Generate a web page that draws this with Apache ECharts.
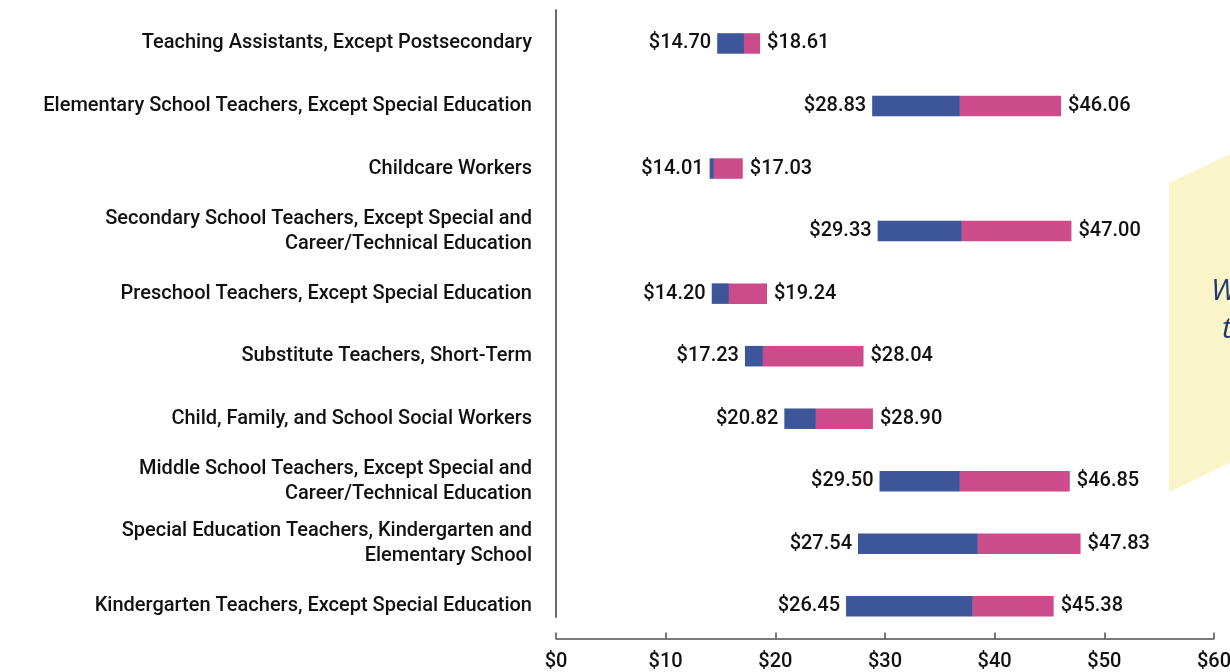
<!DOCTYPE html>
<html>
<head>
<meta charset="utf-8">
<script src="https://cdn.jsdelivr.net/npm/echarts@6/dist/echarts.min.js"></script>
<style>
	html, body { margin: 0; padding: 0; background: #ffffff; }
	#main { width: 1230px; height: 672px; }
</style>
</head>
<body>
<div id="main"></div>
<script>
// occupations, top to bottom
var categories = [
	'Teaching Assistants, Except Postsecondary',
	'Elementary School Teachers, Except Special Education',
	'Childcare Workers',
	'Secondary School Teachers, Except Special and\nCareer/Technical Education',
	'Preschool Teachers, Except Special Education',
	'Substitute Teachers, Short-Term',
	'Child, Family, and School Social Workers',
	'Middle School Teachers, Except Special and\nCareer/Technical Education',
	'Special Education Teachers, Kindergarten and\nElementary School',
	'Kindergarten Teachers, Except Special Education'
];
// hourly wages ($)
var lowWage = [14.70, 28.83, 14.01, 29.33, 14.20, 17.23, 20.82, 29.50, 27.54, 26.45];
var midWage = [17.14, 36.83, 14.40, 37.01, 15.77, 18.87, 23.70, 36.83, 38.47, 38.01];
var highWage = [18.61, 46.06, 17.03, 47.00, 19.24, 28.04, 28.90, 46.85, 47.83, 45.38];
var xTicks = [0, 10, 20, 30, 40, 50, 60];

var FONT = 'Roboto';
var BLUE = '#3D5599';
var PINK = '#CB4B8B';

function money(v) {
	return '$' + v.toFixed(2);
}

var baseData = [], blueData = [], pinkData = [];
for (var i = 0; i < categories.length; i++) {
	baseData.push(lowWage[i]);
	blueData.push(+(midWage[i] - lowWage[i]).toFixed(2));
	pinkData.push(+(highWage[i] - midWage[i]).toFixed(2));
}

var myChart = echarts.init(document.getElementById('main'));
var option = {
	animation: false,
	backgroundColor: '#ffffff',
	textStyle: { fontFamily: FONT },
	grid: [
		{ left: 556, right: 16, top: 12.2, bottom: 34.4, outerBoundsMode: 'none', containLabel: false },
		// only used for the vertical divider line
		{ left: 556, width: 10, top: 10, height: 607, outerBoundsMode: 'none', containLabel: false }
	],
	xAxis: [ {
		gridIndex: 0,
		type: 'value',
		min: xTicks[0],
		max: xTicks[xTicks.length - 1],
		interval: 10,
		offset: 1,
		splitLine: { show: false },
		axisLine: { show: true, lineStyle: { color: '#4d4d4d', width: 1.5 } },
		axisTick: { show: true, inside: true, length: 6, lineStyle: { color: '#4d4d4d', width: 1.5 } },
		axisLabel: {
			margin: 13,
			color: '#111111',
			fontSize: 20,
			fontWeight: 500,
			fontFamily: FONT,
			formatter: function(v) { return '$' + v; }
		}
	}, {
		gridIndex: 1,
		type: 'value',
		show: false
	} ],
	yAxis: [ {
		gridIndex: 0,
		type: 'category',
		inverse: true,
		data: categories,
		axisLine: { show: false },
		axisTick: { show: false },
		splitLine: { show: false },
		axisLabel: {
			margin: 24,
			color: '#111111',
			fontSize: 20,
			fontWeight: 500,
			lineHeight: 25,
			fontFamily: FONT,
			align: 'right'
		}
	}, {
		gridIndex: 1,
		type: 'category',
		data: [],
		axisLine: { show: true, lineStyle: { color: '#6b6b6b', width: 2 } },
		axisTick: { show: false },
		axisLabel: { show: false }
	} ],
	series: [ {
		type: 'bar',
		stack: 'wage',
		data: baseData,
		barWidth: 20.5,
		itemStyle: { color: 'transparent' },
		silent: true
	}, {
		type: 'bar',
		stack: 'wage',
		data: blueData,
		barWidth: 20.5,
		itemStyle: { color: BLUE },
		label: {
			show: true,
			position: 'left',
			distance: 6,
			color: '#111111',
			fontSize: 20,
			fontWeight: 500,
			fontFamily: FONT,
			formatter: function(p) { return money(lowWage[p.dataIndex]); }
		}
	}, {
		type: 'bar',
		stack: 'wage',
		data: pinkData,
		barWidth: 20.5,
		itemStyle: { color: PINK },
		label: {
			show: true,
			position: 'right',
			distance: 7,
			color: '#111111',
			fontSize: 20,
			fontWeight: 500,
			fontFamily: FONT,
			formatter: function(p) { return money(highWage[p.dataIndex]); }
		}
	} ],
	graphic: [ {
		// callout card running off the right edge
		type: 'polygon',
		z: 0,
		shape: { points: [[1169, 183], [1290, 126], [1290, 434], [1169, 492]] },
		style: { fill: '#FAF5C9' }
	}, {
		type: 'text',
		left: 1211,
		top: 276,
		style: { text: 'W', fill: '#23396B', fontSize: 30, fontStyle: 'italic', fontFamily: 'Open Sans' }
	}, {
		type: 'text',
		left: 1222,
		top: 314,
		style: { text: 't', fill: '#23396B', fontSize: 30, fontStyle: 'italic', fontFamily: 'Open Sans' }
	} ]
};
myChart.setOption(option);
</script>
</body>
</html>
